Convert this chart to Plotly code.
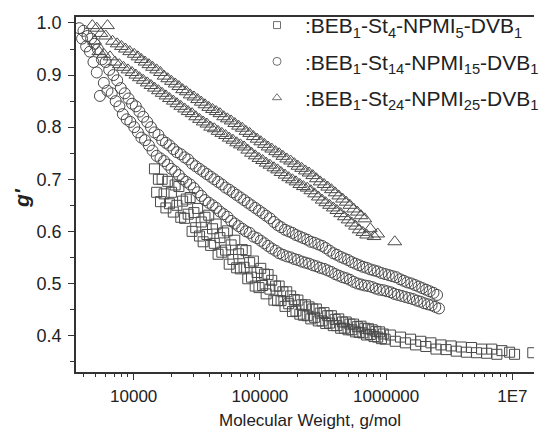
import plotly.graph_objects as go

# ---- data (Molecular weight g/mol, g') ----
sq_mw = [14600,15200,15700,16300,16800,17400,18000,18600,19200,19900,20600,21300,22000,22800,23600,24400,25300,26100,27000,28000,
         29000,30000,31000,32100,33200,34300,35500,36700,38000,39300,40700,42100,43500,45000,46600,48200,49900,51600,53400,55200,
         57100,59100,61100,63200,65400,67700,70000,72400,74900,77500,80100,82900,85700,88700,91700,94900,98200,101500,105000,108600,
         112000,116000,120000,124000,129000,133000,138000,142000,147000,152000,158000,163000,169000,175000,181000,187000,193000,200000,207000,214000,
         221000,229000,237000,245000,253000,262000,271000,280000,290000,300000,311000,322000,332000,344000,356000,368000,381000,394000,407000,421000,
         436000,451000,466000,482000,499000,516000,534000,552000,571000,591000,611000,632000,654000,677000,700000,724000,749000,775000,801000,829000,
         857000,887000,917000,949000,981000,1080000,1180000,1300000,1420000,1560000,1710000,1880000,2060000,2260000,2480000,2720000,2980000,3270000,3590000,3940000,
         4320000,4740000,5200000,5700000,6250000,6860000,7530000,8260000,9500000,10400000,14500000]
sq_g = [0.72,0.675,0.70,0.657,0.70,0.672,0.645,0.696,0.653,0.675,0.637,0.689,0.65,0.686,0.627,0.658,0.625,0.662,0.633,0.665,
        0.60,0.636,0.607,0.644,0.591,0.618,0.58,0.627,0.594,0.631,0.573,0.605,0.577,0.614,0.556,0.588,0.56,0.597,0.564,0.601,
        0.537,0.574,0.546,0.583,0.53,0.557,0.528,0.565,0.531,0.563,0.509,0.54,0.512,0.543,0.495,0.521,0.492,0.529,0.496,0.518,
        0.48,0.517,0.489,0.506,0.468,0.495,0.467,0.495,0.467,0.484,0.456,0.484,0.461,0.476,0.446,0.469,0.447,0.468,0.441,0.459,
        0.439,0.459,0.438,0.455,0.432,0.451,0.435,0.451,0.428,0.443,0.428,0.444,0.423,0.438,0.424,0.438,0.419,0.431,0.419,0.432,
        0.414,0.426,0.414,0.426,0.411,0.422,0.411,0.422,0.407,0.417,0.406,0.418,0.405,0.414,0.401,0.413,0.402,0.411,0.398,0.408,
        0.397,0.407,0.394,0.403,0.393,0.401,0.389,0.397,0.386,0.393,0.382,0.389,0.379,0.386,0.374,0.382,0.373,0.38,0.37,0.378,
        0.368,0.377,0.367,0.374,0.366,0.374,0.364,0.371,0.368,0.364,0.367]

ci_mw = [3700,3900,4000,4200,4300,4500,4600,4800,4900,5100,5200,5400,5600,5800,6000,6200,6400,6700,6900,7200,
         7400,7700,7900,8200,8500,8800,9100,9400,9700,10100,10400,10800,11100,11500,11900,12300,12800,13200,13700,14100,
         14600,15200,15700,16300,16800,17400,18000,18600,19200,19900,20600,21300,22000,22800,23600,24400,25300,26100,27000,28000,
         29000,30000,31000,32100,33200,34300,35500,36700,38000,39300,40700,42100,43500,45000,46600,48200,49900,51600,53400,55200,
         57100,59100,61100,63200,65400,67700,70000,72400,74900,77500,80100,82900,85700,88700,91700,94900,98200,101500,105000,108600,
         112000,116000,120000,124000,129000,133000,138000,142000,147000,152000,158000,163000,169000,175000,181000,187000,193000,200000,207000,214000,
         221000,229000,237000,245000,253000,262000,271000,280000,290000,300000,311000,322000,332000,344000,356000,368000,381000,394000,407000,421000,
         436000,451000,466000,482000,499000,516000,534000,552000,571000,591000,611000,632000,654000,677000,700000,724000,749000,775000,801000,829000,
         857000,887000,917000,949000,981000,1015000,1050000,1090000,1120000,1160000,1200000,1240000,1290000,1330000,1380000,1420000,1470000,1520000,1580000,1630000,
         1690000,1750000,1810000,1870000,1930000,2000000,2070000,2140000,2210000,2290000,2370000,2450000,2530000,2620000]
ci_g = [0.99,0.97,0.985,0.955,0.975,0.945,0.97,0.925,0.96,0.905,0.95,0.86,0.93,0.885,0.925,0.87,0.91,0.865,0.9,0.85,
        0.89,0.84,0.875,0.825,0.865,0.815,0.855,0.81,0.845,0.80,0.84,0.79,0.83,0.78,0.82,0.775,0.81,0.765,0.80,0.755,
        0.79,0.745,0.785,0.74,0.775,0.735,0.77,0.728,0.765,0.72,0.758,0.715,0.752,0.708,0.748,0.70,0.742,0.695,0.738,0.69,
        0.73,0.683,0.725,0.675,0.72,0.668,0.715,0.66,0.71,0.655,0.705,0.65,0.70,0.645,0.695,0.638,0.69,0.633,0.684,0.628,
        0.68,0.62,0.675,0.615,0.67,0.61,0.665,0.605,0.66,0.60,0.655,0.597,0.65,0.59,0.645,0.587,0.64,0.582,0.635,0.577,
        0.63,0.572,0.625,0.567,0.618,0.563,0.612,0.558,0.608,0.555,0.603,0.552,0.60,0.55,0.597,0.547,0.593,0.545,0.59,0.542,
        0.587,0.54,0.584,0.538,0.58,0.535,0.578,0.533,0.575,0.53,0.572,0.528,0.568,0.525,0.563,0.522,0.558,0.518,0.555,0.515,
        0.551,0.512,0.548,0.51,0.545,0.507,0.541,0.503,0.538,0.50,0.535,0.498,0.532,0.496,0.53,0.495,0.527,0.493,0.525,0.49,
        0.523,0.488,0.52,0.487,0.518,0.485,0.516,0.483,0.514,0.48,0.512,0.478,0.508,0.476,0.505,0.474,0.502,0.472,0.50,0.47,
        0.497,0.467,0.494,0.465,0.491,0.462,0.488,0.46,0.485,0.458,0.482,0.455,0.478,0.452]

tr_mw = [4700,4900,5100,5300,5500,5800,6000,6200,6500,6800,7100,7400,7700,8000,8300,8600,9000,9300,9700,10100,
         10400,10800,11100,11500,11900,12300,12800,13200,13700,14100,14600,15200,15700,16300,16800,17400,18000,18600,19200,19900,
         20600,21300,22000,22800,23600,24400,25300,26100,27000,28000,29000,30000,31000,32100,33200,34300,35500,36700,38000,39300,
         40700,42100,43500,45000,46600,48200,49900,51600,53400,55200,57100,59100,61100,63200,65400,67700,70000,72400,74900,77500,
         80100,82900,85700,88700,91700,94900,98200,101500,105000,108600,112000,116000,120000,124000,129000,133000,138000,142000,147000,152000,
         158000,163000,169000,175000,181000,187000,193000,200000,207000,214000,221000,229000,237000,245000,253000,262000,271000,280000,290000,300000,
         311000,322000,332000,344000,356000,368000,381000,394000,407000,421000,436000,451000,466000,482000,499000,516000,534000,552000,571000,591000,
         611000,632000,654000,677000,700000,749000,801000,857000,1170000]
tr_g = [0.995,0.965,0.99,0.945,0.98,0.94,0.975,0.995,0.935,0.965,0.925,0.96,0.92,0.955,0.915,0.95,0.91,0.945,0.905,0.94,
        0.90,0.935,0.895,0.93,0.89,0.925,0.885,0.92,0.88,0.915,0.875,0.91,0.87,0.905,0.865,0.898,0.86,0.893,0.855,0.888,
        0.85,0.883,0.845,0.878,0.84,0.872,0.835,0.868,0.83,0.862,0.826,0.858,0.82,0.853,0.815,0.848,0.81,0.843,0.806,0.838,
        0.80,0.834,0.797,0.83,0.792,0.826,0.788,0.82,0.784,0.816,0.779,0.812,0.775,0.807,0.77,0.802,0.766,0.798,0.762,0.792,
        0.756,0.788,0.75,0.782,0.745,0.777,0.74,0.772,0.736,0.767,0.731,0.762,0.727,0.758,0.722,0.753,0.718,0.749,0.713,0.744,
        0.708,0.739,0.703,0.735,0.699,0.73,0.695,0.725,0.69,0.721,0.686,0.716,0.683,0.712,0.678,0.707,0.672,0.701,0.666,0.695,
        0.66,0.69,0.655,0.685,0.65,0.68,0.645,0.674,0.64,0.668,0.634,0.662,0.628,0.656,0.622,0.65,0.616,0.643,0.61,0.637,
        0.603,0.63,0.598,0.624,0.593,0.605,0.59,0.595,0.58]

assert len(sq_mw) == len(sq_g), (len(sq_mw), len(sq_g))
assert len(ci_mw) == len(ci_g), (len(ci_mw), len(ci_g))
assert len(tr_mw) == len(tr_g), (len(tr_mw), len(tr_g))

names = [":BEB<sub>1</sub>-St<sub>4</sub>-NPMI<sub>5</sub>-DVB<sub>1</sub>",
         ":BEB<sub>1</sub>-St<sub>14</sub>-NPMI<sub>15</sub>-DVB<sub>1</sub>",
         ":BEB<sub>1</sub>-St<sub>24</sub>-NPMI<sub>25</sub>-DVB<sub>1</sub>"]
x_tickvals = [10000, 100000, 1000000, 10000000]
x_ticktext = ["10000", "100000", "1000000", "1E7"]
y_tickvals = [0.4, 0.5, 0.6, 0.7, 0.8, 0.9, 1.0]

FONT = "Arial, Liberation Sans, sans-serif"
MC = "#4a4a4a"

series = [(sq_mw, sq_g, "square-open", 10), (ci_mw, ci_g, "circle-open", 11), (tr_mw, tr_g, "triangle-up-open", 12)]
legend_sym = [("square-open", 7), ("circle-open", 8), ("triangle-up-open", 8)]

fig = go.Figure()
for (xs, ys, sym, sz) in series:
    fig.add_trace(go.Scatter(x=xs, y=ys, mode="markers", showlegend=False,
                             marker=dict(symbol=sym, size=sz, color=MC, line=dict(width=1, color=MC))))
for i, (sym, sz) in enumerate(legend_sym):
    fig.add_trace(go.Scatter(x=[None], y=[None], mode="markers", name=names[i], legendgroup=str(i),
                             marker=dict(symbol=sym, size=sz, color="#707070", line=dict(width=1, color="#707070"))))

fig.update_layout(
    width=544, height=431,
    margin=dict(l=76, r=0, t=17, b=59),
    paper_bgcolor="white", plot_bgcolor="white",
    font=dict(family=FONT, color="#222"),
    legend=dict(x=0.378, y=1.034, xanchor="left", yanchor="top", bgcolor="rgba(0,0,0,0)",
                font=dict(size=21, family=FONT, color="#222"), tracegroupgap=6, itemwidth=46),
    xaxis=dict(type="log", range=[3.543, 7.171], showgrid=False, zeroline=False,
               showline=True, linecolor="#333", linewidth=1.5, mirror=True,
               ticks="outside", ticklen=6, tickwidth=1.2, tickcolor="#333",
               tickvals=x_tickvals, ticktext=x_ticktext, tickfont=dict(size=17), ticklabelstandoff=2,
               minor=dict(ticks="outside", ticklen=3, tickwidth=1, tickcolor="#333", dtick="D1", showgrid=False)),
    yaxis=dict(range=[0.33, 1.0115], showgrid=False, zeroline=False,
               showline=True, linecolor="#333", linewidth=1.5, mirror=False,
               ticks="outside", ticklen=6, tickwidth=1.2, tickcolor="#333",
               tickvals=y_tickvals, ticktext=[f"{v:.1f}" for v in y_tickvals], tickfont=dict(size=18),
               ticklabelstandoff=3,
               minor=dict(ticks="outside", ticklen=4, tickwidth=1, tickcolor="#333", dtick=0.05, showgrid=False)),
    annotations=[
        dict(text="Molecular Weight, g/mol", xref="paper", yref="paper", x=0.5107, y=-0.105,
             xanchor="center", yanchor="top", showarrow=False, font=dict(size=17, family=FONT, color="#222")),
        dict(text="<b><i>g'</i></b>", xref="paper", yref="paper", x=-0.12, y=0.49,
             xanchor="center", yanchor="middle", textangle=-90, showarrow=False,
             font=dict(size=21, family=FONT, color="#222")),
    ],
)

fig.write_html("out.html", config={"displayModeBar": False},
               post_script="document.body.style.margin='0';document.body.style.padding='0';")
